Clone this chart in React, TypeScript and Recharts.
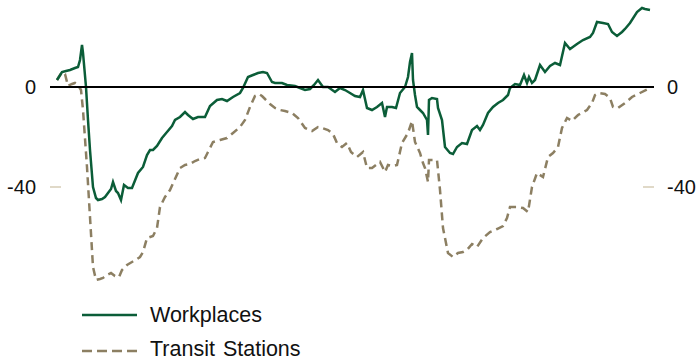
import React from "react";
import { LineChart, Line, XAxis, YAxis, ReferenceLine } from "recharts";

// Day index (approx. days since start of series) and index values
const workDays = [0,5,9,13,18,21,23,25,26,29,31,33,36,39,41,45,48,51,54,56,59,61,64,67,71,75,81,86,90,93,96,100,105,110,115,118,123,128,131,136,141,148,153,160,165,170,176,183,186,191,196,201,206,210,215,218,225,230,238,243,248,253,257,261,266,271,278,283,288,293,298,303,306,310,315,320,325,328,330,335,339,343,348,351,353,355,356,358,360,363,366,370,371,372,375,380,381,385,388,393,396,400,405,410,415,420,423,426,431,436,441,446,451,453,458,463,467,470,472,475,478,483,488,493,498,503,508,513,520,526,533,536,540,546,551,555,560,565,568,573,580,585,588,593];
const workValues = [2.8,6.0,6.4,6.8,7.6,8.0,10.8,16.8,13.6,0,-13.2,-25.2,-40,-44.4,-45.2,-44.8,-44,-42.4,-40.8,-38,-41.6,-42.4,-45.2,-39.2,-40.4,-40.4,-34.4,-32,-27.2,-25.2,-25.2,-23.6,-20.4,-18,-15.6,-13.2,-12,-10,-11.2,-12.8,-12,-12,-7.6,-5.2,-4.8,-5.6,-4,-2.4,-0.4,4,4.8,5.6,6,5.6,2,1.6,1.6,0.8,0.4,-0.4,-1.2,-0.8,0.8,2.8,0,0,-2,-0.4,-1.2,-2.4,-3.6,-4,-1.2,-8.4,-9.2,-8,-6.4,-12,-8,-8,-8.4,-2.4,0,4,10,13.6,2.8,-3.2,-8,-9.2,-10.4,-13.2,-19.2,-5.2,-4.4,-4.8,-8.4,-13.2,-24,-26.4,-26.8,-24,-22.4,-22.8,-17.2,-15.6,-17.2,-15.2,-10.4,-8,-6.4,-5.2,-3.2,-0.4,1.2,0.8,4.8,1.6,4,1.6,2.8,8.8,6,8.4,9.6,8.8,17.6,15.2,17.2,18.8,20,21.6,26,25.6,25.2,22,20.4,22,23.2,25.6,30,31.6,31.2,30.8];

const transitDays = [0,5,8,11,15,18,21,24,26,30,33,36,39,43,46,50,54,58,62,65,70,75,80,83,86,90,96,100,103,108,113,118,123,128,133,138,143,148,151,156,163,170,176,183,188,193,198,202,205,208,213,218,223,228,235,241,248,255,261,265,271,276,280,285,290,294,300,306,310,315,323,328,331,336,340,345,351,355,358,363,366,368,371,372,376,380,383,386,391,396,401,406,410,415,420,426,433,440,446,450,453,460,466,471,475,480,486,491,496,501,505,510,515,521,530,535,538,541,548,553,556,561,568,575,583,591,594];
const transitValues = [2.8,6,5.2,0.4,1.2,1.6,0.8,-1.2,-9.2,-32,-52,-72,-77.2,-76.8,-76.4,-75.2,-74.4,-75.6,-76,-73.2,-71.2,-70,-68.8,-68,-66,-60.4,-59.6,-56.4,-48,-44,-41.2,-36.8,-32.4,-31.2,-30.8,-29.6,-28.8,-28.4,-26,-22,-21.2,-20.4,-18.4,-16,-13.2,-8,-3.6,-2.8,-3.6,-4.8,-6.8,-8.4,-9.2,-9.6,-10.4,-12.4,-16.4,-17.6,-16,-16.4,-17.2,-18.8,-22.4,-24,-22.4,-26,-28,-26,-32.4,-32.4,-30,-34,-31.2,-31.6,-31.2,-22.4,-18.4,-13.6,-22,-26.4,-30.4,-32.4,-38,-29.2,-29.2,-29.2,-41.2,-56.4,-66.4,-68,-66.4,-66,-65.2,-62.8,-64,-60.4,-58,-56.8,-55.6,-52.4,-48,-48,-48.4,-50,-40,-34.4,-36,-28,-26.4,-24,-16.4,-12.4,-13.6,-11.2,-9.2,-6.4,-3.2,-2.4,-2.8,-4.4,-8,-8.4,-6.4,-4,-2.4,-0.8,0];

const yTicks = [-40, 0];
const seriesNames = ["Workplaces", "Transit Stations"];

const workData = workDays.map((d, i) => ({ d, v: workValues[i] }));
const transitData = transitDays.map((d, i) => ({ d, v: transitValues[i] }));

const GREEN = "#0b5d38";
const TAN = "#8c7f62";
const TICKC = "#d6cdb6";
const FONT = "'Liberation Sans', Arial, sans-serif";

const PLOT_LEFT = 50;
const PLOT_RIGHT = 654;

const LeftTick = (props: any) => {
  const { y, payload } = props;
  return (
    <g>
      {payload.value !== 0 && (
        <line x1={PLOT_LEFT} x2={PLOT_LEFT + 11} y1={y} y2={y} stroke={TICKC} strokeWidth={1.5} />
      )}
      <text x={36} y={y} dy="0.36em" textAnchor="end" fontFamily={FONT} fontSize={20} fill="#111">
        {payload.value}
      </text>
    </g>
  );
};

const RightTick = (props: any) => {
  const { y, payload } = props;
  return (
    <g>
      {payload.value !== 0 && (
        <line x1={PLOT_RIGHT - 11} x2={PLOT_RIGHT} y1={y} y2={y} stroke={TICKC} strokeWidth={1.5} />
      )}
      <text x={667} y={y} dy="0.36em" textAnchor="start" fontFamily={FONT} fontSize={20} fill="#111">
        {payload.value}
      </text>
    </g>
  );
};

export default function App() {
  return (
    <div style={{ position: "absolute", left: 0, top: 0, width: 699, height: 362, background: "#fff" }}>
      <LineChart width={699} height={362} margin={{ top: 2, right: 0, bottom: 75, left: 0 }}>
        <XAxis dataKey="d" type="number" domain={[-7, 597]} hide allowDataOverflow />
        <YAxis
          yAxisId="l"
          orientation="left"
          width={50}
          domain={[-80, 34]}
          ticks={yTicks}
          axisLine={false}
          tickLine={false}
          tick={<LeftTick />}
          allowDataOverflow
        />
        <YAxis
          yAxisId="r"
          orientation="right"
          width={45}
          domain={[-80, 34]}
          ticks={yTicks}
          axisLine={false}
          tickLine={false}
          tick={<RightTick />}
          allowDataOverflow
        />
        <Line
          yAxisId="l"
          data={transitData}
          dataKey="v"
          stroke={TAN}
          strokeWidth={2.5}
          strokeDasharray="8 5"
          dot={false}
          isAnimationActive={false}
          name={seriesNames[1]}
        />
        <Line
          yAxisId="l"
          data={workData}
          dataKey="v"
          stroke={GREEN}
          strokeWidth={2.5}
          dot={false}
          isAnimationActive={false}
          name={seriesNames[0]}
        />
        <ReferenceLine yAxisId="l" y={0} stroke="#000" strokeWidth={1.8} />
      </LineChart>
      <svg width={400} height={72} style={{ position: "absolute", left: 0, top: 290 }}>
        <line x1={82} x2={137} y1={25} y2={25} stroke={GREEN} strokeWidth={2.5} />
        <text x={150} y={32} fontFamily={FONT} fontSize={21.5} fill="#111">{seriesNames[0]}</text>
        <line x1={82} x2={137} y1={61} y2={61} stroke={TAN} strokeWidth={2.5} strokeDasharray="10 5" />
        <text x={150} y={66} fontFamily={FONT} fontSize={21.5} fill="#111" wordSpacing={2}>{seriesNames[1]}</text>
      </svg>
    </div>
  );
}
